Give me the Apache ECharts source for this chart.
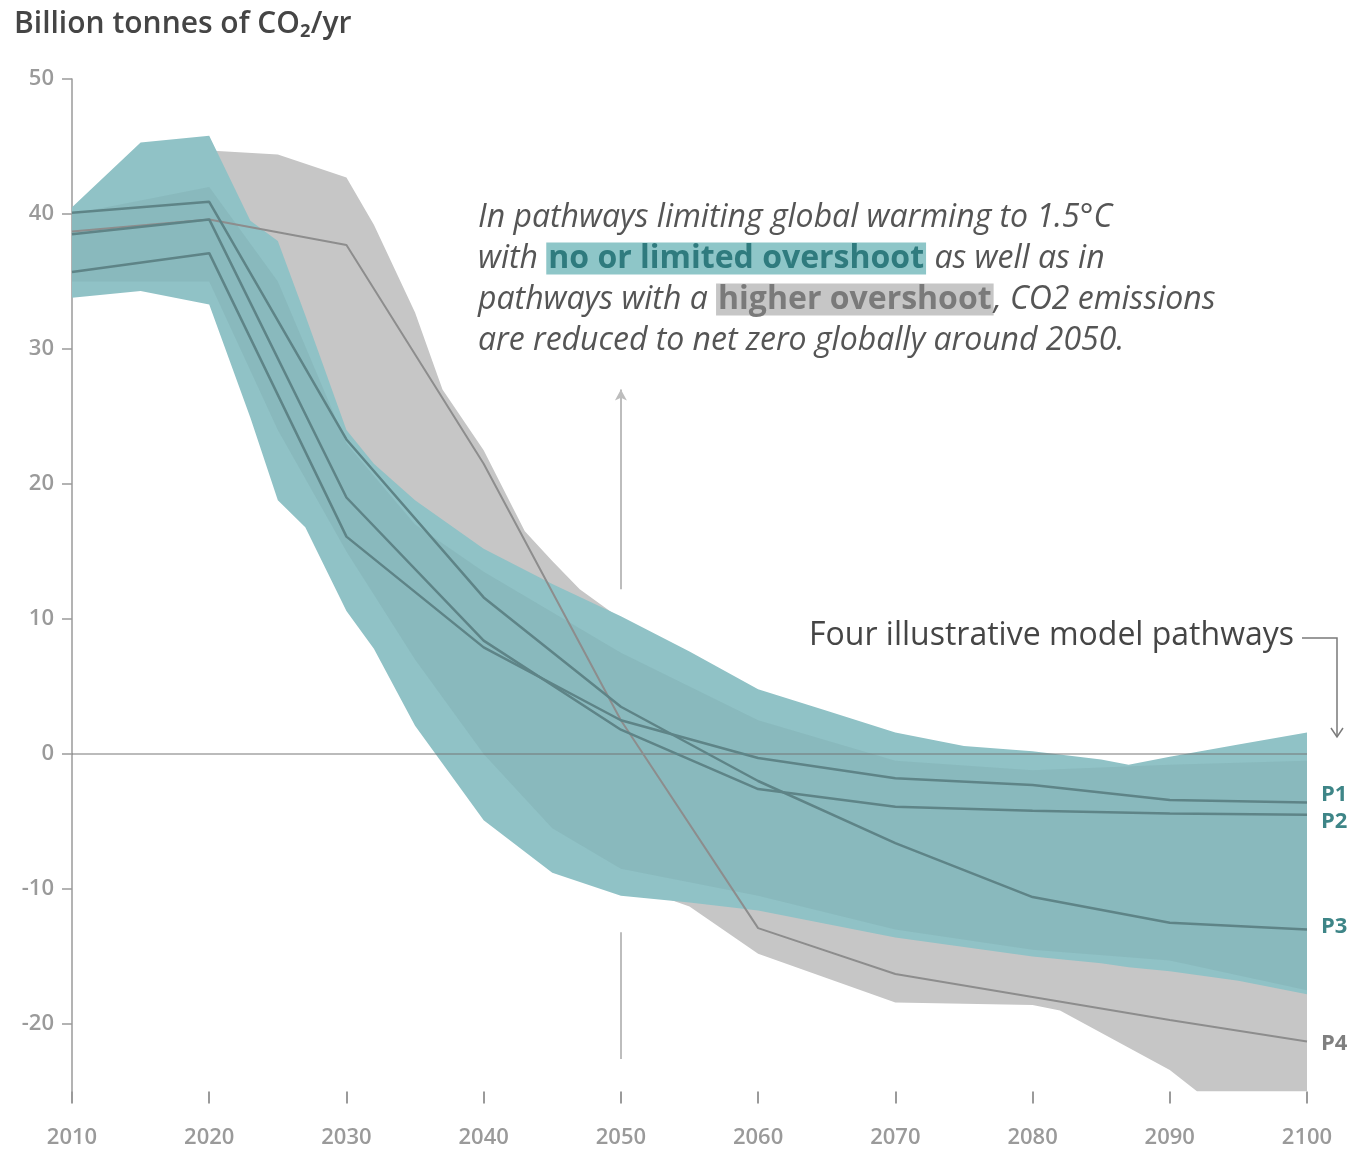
<!DOCTYPE html>
<html><head><meta charset="utf-8">
<script src="https://cdn.jsdelivr.net/npm/echarts@6/dist/echarts.min.js"></script>
<style>html,body{margin:0;padding:0;background:#fff}#c{width:1350px;height:1149px}</style>
</head><body><div id="c"></div>
<script>
// ---- axis ticks ----
const xTicks = [2010, 2020, 2030, 2040, 2050, 2060, 2070, 2080, 2090, 2100];
const yTicks = [-20, -10, 0, 10, 20, 30, 40, 50];

// ---- range of pathways with no or limited overshoot (teal) ----
const tealYears = [2010, 2015, 2020, 2023, 2025, 2027, 2030, 2032, 2035, 2040, 2045, 2050, 2055, 2060, 2065, 2070, 2075, 2080, 2085, 2087, 2090, 2095, 2100];
const tealMax   = [40.5, 45.3, 45.8, 39.5, 38.0, 32.5, 24.0, 21.5, 18.8, 15.2, 12.6, 10.2, 7.6, 4.8, 3.2, 1.6, 0.6, 0.2, -0.4, -0.8, -0.2, 0.7, 1.6];
const tealMin   = [33.8, 34.3, 33.3, 24.9, 18.8, 16.8, 10.6, 7.8, 2.1, -4.9, -8.8, -10.5, -11.0, -11.6, -12.6, -13.6, -14.3, -15.0, -15.5, -15.8, -16.1, -16.8, -17.8];

// denser core of the teal pathways
const coreYears = [2010, 2020, 2025, 2030, 2035, 2040, 2045, 2050, 2055, 2060, 2070, 2080, 2090, 2100];
const coreMax   = [40.0, 42.0, 35.0, 23.0, 17.0, 13.5, 10.5, 7.5, 5.0, 2.5, -0.5, -1.2, -0.8, -0.5];
const coreMin   = [35.0, 35.0, 24.0, 15.0, 7.0, 0.0, -5.5, -8.5, -9.5, -10.5, -13.0, -14.5, -15.3, -17.5];

// ---- range of pathways with higher overshoot (grey) ----
const greyYears = [2010, 2020, 2025, 2030, 2032, 2035, 2037, 2040, 2043, 2045, 2047, 2050, 2055, 2060, 2070, 2080, 2082, 2090, 2092, 2100];
const greyMax   = [40.0, 44.7, 44.4, 42.7, 39.2, 32.7, 27.0, 22.5, 16.5, 14.3, 12.2, 10.0, 6.5, 3.5, 0.5, -1.0, -1.0, -1.0, -1.0, -1.0];
const greyMin   = [36.0, 36.0, 28.0, 20.0, 16.0, 10.0, 7.0, 2.0, -2.0, -5.0, -7.0, -9.5, -11.3, -14.8, -18.4, -18.6, -19.0, -23.4, -25.0, -25.0];

// ---- four illustrative model pathways ----
const pathYears = [2010, 2020, 2030, 2040, 2050, 2060, 2070, 2080, 2090, 2100];
const P1 = [35.7, 37.1, 16.1, 7.9, 2.5, -0.3, -1.8, -2.3, -3.4, -3.6];
const P2 = [38.5, 39.6, 19.0, 8.4, 1.8, -2.6, -3.9, -4.2, -4.4, -4.5];
const P3 = [40.1, 40.9, 23.3, 11.6, 3.5, -2.0, -6.6, -10.6, -12.5, -13.0];
const P4 = [38.7, 39.6, 37.7, 21.5, 2.5, -12.9, -16.3, -18.0, -19.7, -21.3];

const FONT = "'Open Sans', 'Noto Sans', sans-serif";
const TEAL = '#90c2c6';
const GREY = '#c6c6c6';
const LINE_DARK = '#5e8487';
const LINE_GREY = '#8d8d8d';

function band(name, years, upper, lower, color, z) {
  return {
    type: 'custom', name: name, z: z, silent: true, clip: true,
    data: [[years[0], upper[0]]],
    renderItem: function (params, api) {
      const pts = [];
      for (let i = 0; i < years.length; i++) pts.push(api.coord([years[i], upper[i]]));
      for (let i = years.length - 1; i >= 0; i--) pts.push(api.coord([years[i], lower[i]]));
      return { type: 'polygon', shape: { points: pts }, style: { fill: color } };
    }
  };
}

function path(name, vals, color, width, labelColor, dy, z) {
  return {
    type: 'line', name: name, z: z, silent: true,
    data: pathYears.map((y, i) => [y, vals[i]]),
    symbol: 'none',
    lineStyle: { color: color, width: width },
    endLabel: {
      show: true, formatter: name, offset: [6, dy],
      color: labelColor, fontFamily: FONT, fontWeight: 'bold', fontSize: 22
    }
  };
}

const chart = echarts.init(document.getElementById('c'), null, { renderer: 'canvas' });

const series = [
  band('higher overshoot', greyYears, greyMax, greyMin, GREY, 1),
  band('no or limited overshoot', tealYears, tealMax, tealMin, TEAL, 2),
  band('core', coreYears, coreMax, coreMin, 'rgba(70,100,105,0.09)', 3),
  path('P4', P4, LINE_GREY, 2, '#7f7f7f', 2, 5),
  path('P3', P3, LINE_DARK, 2.5, '#3e8587', -3, 6),
  path('P2', P2, LINE_DARK, 2.5, '#3e8587', 7, 6),
  path('P1', P1, LINE_DARK, 2.5, '#3e8587', -8, 6)
];

// zero line
series[3].markLine = {
  silent: true, symbol: ['none', 'none'],
  label: { show: false },
  lineStyle: { color: 'rgba(115,115,115,0.65)', width: 1.5, type: 'solid' },
  data: [{ yAxis: 0 }]
};
// 2050 pointer
series[4].markLine = {
  silent: true, symbol: ['none', 'none'],
  label: { show: false },
  lineStyle: { color: '#bdbdbd', width: 2, type: 'solid' },
  data: [
    [{ coord: [2050, 12.2], symbol: 'none' }, { coord: [2050, 27.0], symbol: 'arrow', symbolSize: [9, 11] }],
    [{ coord: [2050, -13.2] }, { coord: [2050, -22.6] }]
  ]
};

const option = {
  animation: false,
  backgroundColor: '#ffffff',
  title: {
    text: 'Billion tonnes of CO\u2082/yr',
    left: 9, top: 4,
    textStyle: { fontFamily: FONT, fontSize: 30, fontWeight: 600, color: '#454545' }
  },
  grid: { left: 72, right: 43, top: 79, bottom: 57.5 },
  xAxis: {
    type: 'value', min: 2010, max: 2100, interval: 10,
    axisLine: { show: false, onZero: false },
    axisTick: { show: true, length: 12, lineStyle: { color: '#9a9a9a', width: 2 } },
    splitLine: { show: false },
    axisLabel: {
      margin: 35, fontFamily: FONT, fontSize: 22, fontWeight: 600, color: '#9a9a9a',
      formatter: function (v) { return String(v); }
    }
  },
  yAxis: {
    type: 'value', min: -25, max: 50,
    axisLine: { show: true, lineStyle: { color: '#9a9a9a', width: 1.5 } },
    axisTick: { show: true, length: 10, customValues: yTicks, lineStyle: { color: '#9a9a9a', width: 1.5 } },
    splitLine: { show: false },
    axisLabel: { customValues: yTicks, margin: 18, fontFamily: FONT, fontSize: 22, fontWeight: 600, color: '#9a9a9a' }
  },
  graphic: [
    {
      type: 'text', left: 478, top: 197, z: 100,
      style: {
        text: '{i|In pathways limiting global warming to 1.5°C}\n' +
              '{i|with }{t|no or limited overshoot}{i| as well as in}\n' +
              '{i|pathways with a }{g|higher overshoot}{i|, CO2 emissions}\n' +
              '{i|are reduced to net zero globally around 2050.}',
        fontFamily: FONT, fontSize: 32, fontStyle: 'italic', fill: '#555', lineHeight: 41,
        rich: {
          i: { fontFamily: FONT, fontSize: 32, fontStyle: 'italic', fill: '#555555', lineHeight: 41 },
          t: { fontFamily: FONT, fontSize: 32, fontWeight: 'bold', fill: '#2f7b7e', backgroundColor: '#8ec6c8', lineHeight: 41, padding: [0, 2] },
          g: { fontFamily: FONT, fontSize: 32, fontWeight: 'bold', fill: '#7a7a7a', backgroundColor: '#c6c6c6', lineHeight: 41, padding: [0, 2] }
        }
      }
    },
    {
      type: 'text', z: 100,
      style: {
        x: 1294, y: 636, text: 'Four illustrative model pathways',
        align: 'right', verticalAlign: 'middle',
        fontFamily: FONT, fontSize: 32, fontWeight: 500, fill: '#454545'
      }
    },
    {
      type: 'polyline', z: 100,
      shape: { points: [[1302, 638], [1337, 638], [1337, 737]] },
      style: { stroke: '#7a7a7a', lineWidth: 1.5, fill: null }
    },
    {
      type: 'polyline', z: 100,
      shape: { points: [[1331, 728], [1337, 737], [1343, 728]] },
      style: { stroke: '#7a7a7a', lineWidth: 1.5, fill: null }
    }
  ],
  series: series
};
chart.setOption(option);
</script>
</body></html>
